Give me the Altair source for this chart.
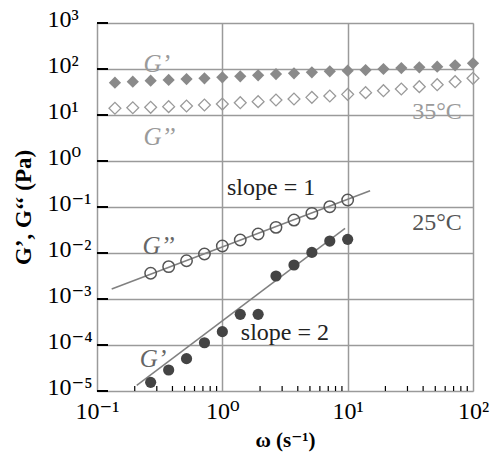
import altair as alt
import pandas as pd

# ---- data ----
omega = [0.139, 0.193, 0.268, 0.373, 0.518, 0.720, 1.00, 1.39, 1.93, 2.68, 3.73,
         5.18, 7.20, 10.0, 13.9, 19.3, 26.8, 37.3, 51.8, 72.0, 100.0]
g1_35 = [50.5, 53, 55.8, 57.7, 60.6, 62.7, 65.9, 69.3, 72.8, 77.8, 80.5, 84.7,
         89, 92, 95, 100, 105, 109, 112, 120, 133]
g2_35 = [14.0, 14.4, 14.7, 15.2, 15.7, 16.5, 17.3, 18.5, 19.5, 21.2, 22.3, 24.2,
         25.9, 28.1, 30.6, 33.8, 36.7, 41.3, 45.6, 53, 62.7]
omega_25 = [0.268, 0.373, 0.518, 0.720, 1.00, 1.39, 1.93, 2.68, 3.73, 5.18, 7.20, 10.0]
g2_25 = [0.00362, 0.00505, 0.0068, 0.0095, 0.0142, 0.0192, 0.0259, 0.0361,
         0.052, 0.0728, 0.1016, 0.142]
g1_25 = [1.54e-5, 2.86e-5, 5.05e-5, 1.12e-4, 1.95e-4, 4.64e-4, 4.64e-4, 3.16e-3,
         5.48e-3, 0.0103, 0.0182, 0.0198]

slope1_x = [0.131, 15.1]
slope1_y = [0.00165, 0.226]
slope2_x = [0.2075, 9.53]
slope2_y = [1.33e-5, 0.0344]

x_ticks = [0.1, 1, 10, 100]
y_ticks = [1e-5, 1e-4, 1e-3, 1e-2, 1e-1, 1, 10, 100, 1000]
x_minor = [m * 10.0 ** e for e in (-1, 0, 1) for m in range(2, 10)]

ann_italic_text = ["G\u2019", "G\u2019\u2019", "G\u2019\u2019", "G\u2019"]
ann_italic_x = [0.30, 0.315, 0.31, 0.28]
ann_italic_y = [130, 3.3, 0.0145, 5.0e-5]
ann_italic_col = ["#9a9a9a", "#9a9a9a", "#666666", "#666666"]

ann_text = ["35\u00b0C", "slope = 1", "25\u00b0C", "slope = 2"]
ann_x = [51.6, 2.45, 51.6, 3.16]
ann_y = [11.6, 0.259, 0.0449, 1.82e-4]
ann_col = ["#9a9a9a", "#222222", "#555555", "#222222"]

SUP = str.maketrans("-0123456789", "\u207b\u2070\u00b9\u00b2\u00b3\u2074\u2075\u2076\u2077\u2078\u2079")


def label_expr(vals):
    import math
    parts = []
    for v in vals[:-1]:
        e = round(math.log10(v))
        parts.append(f"datum.value < {v * 3:g} ? '10{str(e).translate(SUP)}' : ")
    e = round(math.log10(vals[-1]))
    return "".join(parts) + f"'10{str(e).translate(SUP)}'"


FONT = "Liberation Serif"
LFONT = "Liberation Serif, DejaVu Serif"
xs = alt.Scale(type="log", domain=[0.1, 100], nice=False)
ys = alt.Scale(type="log", domain=[1e-5, 1e3], nice=False)

x_axis = alt.Axis(values=x_ticks, labelExpr=label_expr(x_ticks), grid=True,
                  gridColor="#9a9a9a", gridWidth=1.5, ticks=False, domain=False,
                  labelFont=LFONT, labelFontSize=24, labelColor="black",
                  labelPadding=8, labelFlush=False,
                  title="\u03c9 (s\u207b\u00b9)", titleFont=LFONT, titleFontSize=21,
                  titleFontWeight="bold", titleColor="black", titlePadding=6)
y_axis = alt.Axis(values=y_ticks, labelExpr=label_expr(y_ticks), grid=True,
                  gridColor="#9a9a9a", gridWidth=1.5, ticks=False, domain=False,
                  labelFont=LFONT, labelFontSize=24, labelColor="black",
                  labelAlign="left", labelPadding=50, labelFlush=False,
                  labelOffset=-4,
                  title="G\u2019, G\u2018\u2018 (Pa)", titleFont=FONT, titleFontSize=23,
                  titleFontWeight="bold", titleColor="black", titlePadding=12)

d35 = pd.DataFrame({"w": omega, "g1": g1_35, "g2": g2_35})
d25 = pd.DataFrame({"w": omega_25, "g1": g1_25, "g2": g2_25})
lines = pd.DataFrame({
    "w": slope1_x + slope2_x,
    "g": slope1_y + slope2_y,
    "k": ["s1", "s1", "s2", "s2"],
})

base35 = alt.Chart(d35)
base25 = alt.Chart(d25)

X = lambda f: alt.X(f, scale=xs, axis=x_axis)
Y = lambda f: alt.Y(f, scale=ys, axis=y_axis)

g1_35_layer = base35.mark_point(shape="diamond", filled=True, size=150, color="#8a8a8a",
                                opacity=1).encode(x=X("w:Q"), y=Y("g1:Q"))
g2_35_layer = base35.mark_point(shape="diamond", filled=False, size=140, color="#9a9a9a",
                                strokeWidth=1.3, opacity=1).encode(x=X("w:Q"), y=Y("g2:Q"))

line_layer = alt.Chart(lines).mark_line(color="#808080", strokeWidth=1.5).encode(
    x=X("w:Q"), y=Y("g:Q"), detail="k:N")

g2_25_layer = base25.mark_point(shape="circle", filled=False, size=130, color="#555555",
                                strokeWidth=1.5, opacity=1).encode(x=X("w:Q"), y=Y("g2:Q"))
g1_25_layer = base25.mark_circle(size=125, color="#444444", opacity=1).encode(
    x=X("w:Q"), y=Y("g1:Q"))

ytick_layer = alt.Chart(pd.DataFrame({"v": y_ticks})).mark_rule(
    color="black", strokeWidth=2).encode(
    y=Y("v:Q"), x=alt.value(0), x2=alt.value(11))
xtick_layer = alt.Chart(pd.DataFrame({"v": x_minor})).mark_rule(
    color="black", strokeWidth=1.2).encode(
    x=X("v:Q"), y=alt.value(368), y2=alt.value(363))

ital = alt.Chart(pd.DataFrame({"t": ann_italic_text, "w": ann_italic_x,
                               "g": ann_italic_y, "c": ann_italic_col})).mark_text(
    font=FONT, fontSize=25, fontStyle="italic", align="center", baseline="middle").encode(
    x=X("w:Q"), y=Y("g:Q"), text="t:N", color=alt.Color("c:N", scale=None))
plain = alt.Chart(pd.DataFrame({"t": ann_text, "w": ann_x, "g": ann_y,
                                "c": ann_col})).mark_text(
    font=FONT, fontSize=24, align="center", baseline="middle").encode(
    x=X("w:Q"), y=Y("g:Q"), text="t:N", color=alt.Color("c:N", scale=None))

chart = alt.layer(
    g1_35_layer, g2_35_layer, line_layer, g2_25_layer, g1_25_layer,
    ytick_layer, xtick_layer, ital, plain
).properties(
    width=376, height=368,
    padding={"left": 97, "top": 23, "right": 17, "bottom": 68},
    autosize=alt.AutoSizeParams(type="none"),
).configure_view(stroke="black", strokeWidth=3).configure(background="white")

chart.save("out.html", embed_options={"renderer": "svg", "actions": False})
